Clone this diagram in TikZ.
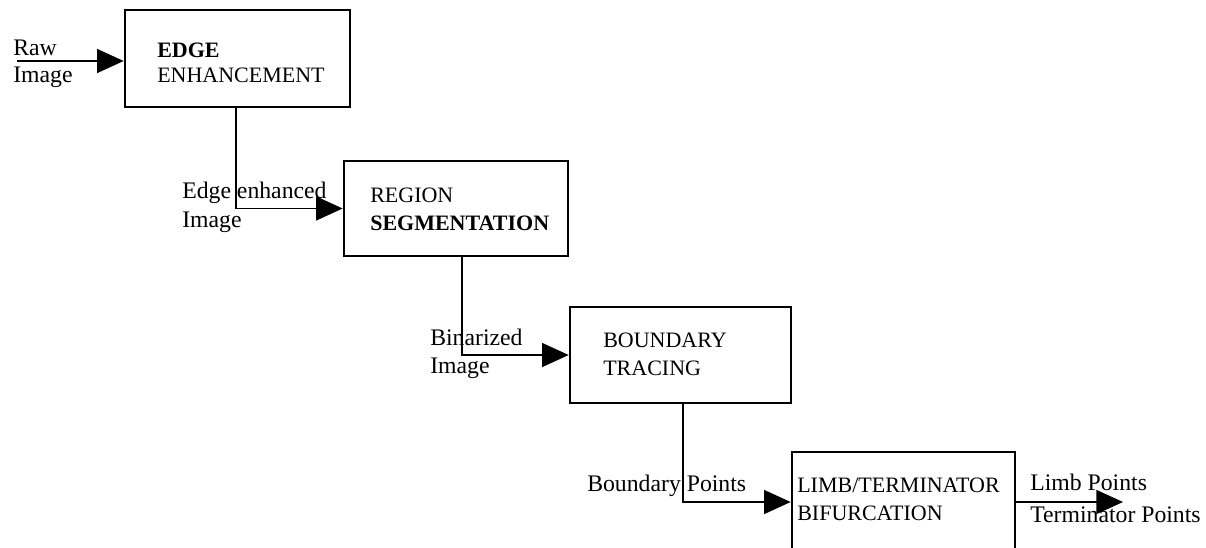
\documentclass[tikz,border=0pt]{standalone}
\usepackage{fontspec}
\setmainfont{Liberation Serif}
\usetikzlibrary{arrows.meta}
\begin{document}
\begin{tikzpicture}[x=0.75pt,y=-0.75pt,
  procbox/.style={draw,line width=2pt,rectangle,inner sep=0pt},
  conn/.style={line width=1.2pt,-{Triangle[length=20pt,width=18pt]}},
  boxtext/.style={anchor=base west,inner sep=0pt,font=\fontsize{16.5}{20}\selectfont},
  lbl/.style={anchor=base west,inner sep=0pt,font=\fontsize{17.8}{21}\selectfont}]
\useasboundingbox (0,0) rectangle (1206,547);
\clip (0,0) rectangle (1206,547);
% boxes
\node[procbox,minimum width=168.75pt,minimum height=72.75pt] (box1) at (237.5,58.5) {};
\node[procbox,minimum width=168pt,minimum height=71.25pt] (box2) at (456,208.5) {};
\node[procbox,minimum width=165.75pt,minimum height=72pt] (box3) at (680.5,355) {};
\node[procbox,minimum width=167.25pt,minimum height=75pt] (box4) at (903.5,502) {};
% box texts
\node[boxtext] (t1a) at (157,57) {\bfseries EDGE};
\node[boxtext] (t1b) at (157,82) {ENHANCEMENT};
\node[boxtext] (t2a) at (370,202) {REGION};
\node[boxtext] (t2b) at (370,230) {\bfseries SEGMENTATION};
\node[boxtext] (t3a) at (603,347) {BOUNDARY};
\node[boxtext] (t3b) at (603,375) {TRACING};
\node[boxtext] (t4a) at (797,492) {LIMB/TERMINATOR};
\node[boxtext] (t4b) at (797,520) {BIFURCATION};
% labels
\node[lbl] (l0a) at (13,55) {Raw};
\node[lbl] (l0b) at (13,82) {Image};
\node[lbl] (l1a) at (182,198) {Edge enhanced};
\node[lbl] (l1b) at (182,227) {Image};
\node[lbl] (l2a) at (430,345) {Binarized};
\node[lbl] (l2b) at (430,373) {Image};
\node[lbl] (l3a) at (587,491) {Boundary Points};
\node[lbl] (l4a) at (1030,490) {Limb Points};
\node[lbl] (l4b) at (1030,522) {Terminator Points};
% connectors
\coordinate (rawin) at (17,61);
\coordinate (outend) at (1123,502);
\draw[conn] (rawin) -- (rawin -| box1.west);
\draw[conn] ([xshift=-1pt]box1.south) |- (box2.west);
\draw[conn] ([xshift=4.5pt]box2.south) |- (box3.west);
\draw[conn] ([xshift=2pt]box3.south) |- (box4.west);
\draw[conn] (box4.east) -- (outend);
\end{tikzpicture}
\end{document}
